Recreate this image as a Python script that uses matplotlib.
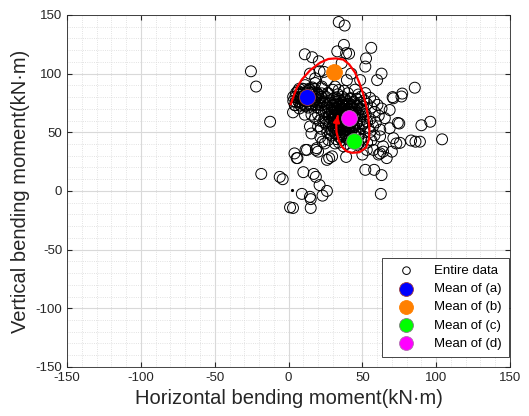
import matplotlib.pyplot as plt
import numpy as np

# sparse / outer points (horizontal, vertical) in kN*m
outer_x = [-25.5, -22, -12.5, -18.5, -6, -4, 1, 3, 15, 9, 14.5, 15, 23, 26, 21, 10, 17, 18.5,
           4, 6, 11.5, 3, 27.5, 29.5, 18.5, 20, 52, 58, 63, 62.5, 90, 96, 83, 86, 104, 39, 50,
           62, 66.5, 70, 75.5, 71, 74, 53, 61, 64, 34, 38, 37.5, 56, 52.5, 52, 63, 60, 48.5,
           85.5, 77, 70.5, 39, 36, 11, 16, 20.5, 21, 18, 22.5, 20, 26.5, 33, 41, 42.5, 39.5,
           31.5, 34, 24, 14.5, 26, 18, 22.5, 71, 76.5, 68.5, 75, 68.5, 73, 64, 57.5, 62, 89,
           11, 15.5, 23.5, 14.5, 15.5, 21.5, 23, 19, 12.5, 5.5, 27, 24.5, 31.5, 28, 20, 26]
outer_y = [102, 89, 59, 14.5, 12, 10, -14, -14.5, -14.5, -2.5, -5, -7, -4, 0, 5, 16, 14.5, 12,
           32, 28, 35, 67, 28, 29.5, 35, 33.5, 18, 18, 13.5, -2.5, 56, 59, 43, 42, 44, 29, 31,
           32, 28, 33.5, 41, 45, 58, 35, 31, 38, 144, 141, 124.5, 122, 113, 106, 100, 94.5, 94.5,
           88, 83, 80, 117.5, 109, 116.5, 114, 110.5, 102, 96, 89, 82, 83.5, 119, 117, 100, 94.5,
           89, 86, 101.5, 100, 94.5, 92, 87.5, 79, 80.5, 69, 57.5, 53.5, 40.5, 33.5, 35, 46.5, 42,
           65, 65, 59, 55, 49, 46, 42, 36.5, 35, 28, 43.5, 40.5, 40.5, 49, 55, 26.5]

# dense cluster around mean (a)
clus_a_x = [5, 6.2, 7.1, 7.4, 8.3, 8.1, 9.2, 9.5, 10.3, 10.1, 11.2, 11.4, 12.3, 12.1, 13.2, 13.4,
            14.1, 14.3, 15.2, 15.4, 16.1, 16.3, 17.2, 17.4, 18.1, 18.3, 19.2, 20.1, 6.3, 4.2, 9.1,
            13.3, 16.2, 20.3, 22.1, 11.2, 7.3, 3.1, 14.2, 19.4, 22, 24, 20, 26, 23, 21, 18, 25, 22,
            4.5, 8.1, 11.6, 15.2, 18.4, 22.1,
            3.2, 6.6, 10.1, 13.4, 17.2, 20.6, 24.1,
            4.6, 8.2, 11.4, 15.1, 18.6, 22.3,
            5.1, 8.4, 12.2, 15.6, 19.1, 22.4,
            7.2, 10.4, 14.1, 17.6]
clus_a_y = [76, 79.2, 82.1, 75.3, 78.2, 84.1, 80.3, 74.2, 77.1, 83.3, 79.4, 72.2, 81.3, 76.4, 85.2,
            78.1, 74.3, 80.2, 82.4, 77.3, 79.1, 73.4, 84.2, 76.1, 80.4, 78.3, 75.2, 82.2, 85.3, 73.1,
            87.2, 71.1, 88.2, 77.4, 80.1, 90.2, 70.3, 80.2, 86.1, 71.3, 70, 67, 65, 72, 76, 60, 62, 58, 53,
            73.1, 72.8, 73.3, 72.9, 73.2, 73.0,
            76.6, 76.3, 76.8, 76.4, 76.7, 76.2, 76.5,
            80.1, 79.8, 80.3, 79.9, 80.2, 80.0,
            83.6, 83.3, 83.7, 83.4, 83.8, 83.2,
            87.1, 86.8, 87.2, 86.9]

# dense cluster around means (c) and (d)
clus_d_x = [30, 37.5, 45,
            27, 33.4, 40.2, 47.3, 52,
            25.3, 31.1, 36.4, 42.2, 49.1, 55.2,
            28.2, 33.1, 38.4, 44.1, 51.3, 58,
            24.1, 30.3, 34.2, 37.3, 41.4, 46.2, 53.1, 60.2,
            27.3, 31.2, 35.4, 38.1, 42.3, 48.2, 56.1, 63,
            25.2, 29.4, 33.2, 36.3, 39.1, 43.4, 50.2, 58.3,
            28.1, 31.4, 34.3, 37.2, 40.4, 45.1, 52.3, 61.1,
            24.4, 30.1, 33.3, 36.2, 39.4, 43.1, 48.3, 55.4, 65.2,
            27.1, 32.2, 35.3, 38.1, 41.2, 46.4, 53.2, 59.1,
            25.4, 30.2, 34.1, 37.4, 40.2, 44.3, 50.1, 57.3,
            28.3, 32.1, 36.2, 39.3, 43.2, 48.1, 54.2, 62.1,
            26.2, 31.3, 35.1, 38.2, 42.4, 47.2, 55.3,
            29.1, 34.2, 37.1, 41.3, 45.2, 51.1, 58.2,
            32.3, 36.1, 40.3, 44.2, 49.3, 56.1,
            34.1, 39.2, 43.3, 47.1, 53.2,
            37.2, 42.1, 48.3,
            32.5, 36.1, 39.4, 43.2, 33.1, 36.4, 40.2, 44.3, 30.4, 34.3, 38.2, 41.4,
            32.2, 35.4, 38.3, 42.1, 31.3, 34.4, 37.3, 41.2, 33.2, 36.1, 39.3, 42.4, 35.2, 38.4, 41.3]
clus_d_y = [86.2, 85.4, 86.3,
            83.1, 82.4, 83.3, 82.2, 83.4,
            80.2, 79.4, 80.3, 79.1, 80.4, 79.3,
            77.3, 76.2, 77.4, 76.1, 77.2, 76.4,
            74.1, 73.3, 74.4, 73.2, 74.3, 73.1, 74.2, 73.4,
            71.2, 70.4, 71.3, 70.1, 71.4, 70.2, 71.1, 70.3,
            68.3, 67.1, 68.4, 67.2, 68.1, 67.3, 68.2, 67.4,
            65.1, 64.3, 65.2, 64.4, 65.3, 64.1, 65.4, 64.2,
            62.2, 61.4, 62.1, 61.3, 62.4, 61.1, 62.3, 61.2, 62.1,
            59.3, 58.1, 59.4, 58.2, 59.1, 58.3, 59.2, 58.4,
            56.4, 55.2, 56.1, 55.3, 56.2, 55.4, 56.3, 55.1,
            53.1, 52.3, 53.4, 52.1, 53.2, 52.4, 53.3, 52.2,
            50.2, 49.4, 50.1, 49.3, 50.4, 49.1, 50.3,
            47.3, 46.1, 47.2, 46.4, 47.1, 46.3, 47.4,
            44.2, 43.4, 44.1, 43.2, 44.3, 43.1,
            41.3, 40.2, 41.1, 40.4, 41.2,
            38.1, 37.3, 38.2,
            73.5, 73.2, 73.6, 73.1, 70.2, 70.4, 70.1, 70.3, 67.1, 67.3, 67.2, 67.4,
            64.2, 64.4, 64.1, 64.3, 61.3, 61.1, 61.4, 61.2, 58.2, 58.4, 58.1, 58.3, 55.1, 55.3, 55.2]

# extra points filling the core of the (c)/(d) cluster
core_x = [30.2, 34.1, 38.3, 42.2, 46.1,
          28.1, 32.3, 36.2, 40.1, 44.3, 48.2,
          29.6, 34.4, 38.6, 42.4, 46.6, 50.4,
          27.6, 31.4, 35.1, 38.2, 41.1, 45.4, 49.6,
          29.1, 33.2, 36.1, 39.6, 43.2, 47.1,
          27.2, 30.6, 34.1, 37.2, 40.6, 44.4, 49.1,
          29.2, 33.1, 36.6, 40.2, 44.1, 48.2,
          28.2, 31.6, 35.2, 38.1, 42.2, 46.1, 50.2,
          30.1, 33.6, 37.1, 40.6, 44.6,
          29.2, 33.2, 37.6, 41.1, 45.2,
          32.1, 36.2, 40.1, 44.2, 48.1,
          35.1, 39.2, 43.1, 47.2]
core_y = [78.6, 78.3, 78.7, 78.4, 78.5,
          75.4, 75.7, 75.3, 75.6, 75.5, 75.2,
          72.6, 72.3, 72.7, 72.4, 72.5, 72.2,
          69.4, 69.7, 69.3, 69.6, 69.5, 69.2, 69.8,
          66.6, 66.3, 66.7, 66.4, 66.5, 66.2,
          63.4, 63.7, 63.3, 63.6, 63.5, 63.2, 63.8,
          60.6, 60.3, 60.7, 60.4, 60.5, 60.2,
          57.4, 57.7, 57.3, 57.6, 57.5, 57.2, 57.8,
          54.6, 54.3, 54.7, 54.4, 54.5,
          51.4, 51.7, 51.3, 51.6, 51.5,
          48.6, 48.3, 48.7, 48.4, 48.5,
          45.4, 45.7, 45.3, 45.6]

# small dot near the origin
dot_x = [2]
dot_y = [1]

# means of the four groups
mean_labels = ['Mean of (a)', 'Mean of (b)', 'Mean of (c)', 'Mean of (d)']
mean_x = [12.5, 30.5, 44.5, 41]
mean_y = [80, 101, 42.5, 62.5]
mean_colors = ['#0000ff', '#ff8000', '#00ff00', '#ff00ff']
mean_edges = ['#a04040', '#ff8000', '#808080', '#b070b0']

# hand drawn red loop
loop_x = [1.5, 3.5, 5.6, 9, 14.7, 21.4, 27, 32, 37, 41, 45, 48, 50.5, 52.5, 54, 54.8, 54.5,
          52.5, 48, 43, 39, 36, 34, 32.5, 32.3, 33]
loop_y = [74, 81, 88, 95, 103, 109.4, 112.5, 113, 112, 108, 101, 92, 83, 73, 63, 53, 44,
          37, 33, 32.5, 34, 38, 43, 50, 56, 62]

all_x = outer_x + clus_a_x + clus_d_x + core_x
all_y = outer_y + clus_a_y + clus_d_y + core_y

plt.rcParams['font.family'] = ['Liberation Sans', 'DejaVu Sans']
plt.rcParams['axes.unicode_minus'] = False

fig = plt.figure(figsize=(5.29, 4.16), dpi=100)
ax = fig.add_axes([0.127, 0.118, 0.837, 0.846])

ax.scatter(all_x, all_y, s=62, facecolors='none', edgecolors='black', linewidths=0.7,
           label='Entire data', zorder=3)
ax.plot(dot_x, dot_y, 'k.', ms=2.5, zorder=3)

ax.plot(loop_x, loop_y, color='red', lw=1.6, zorder=4)
ax.annotate('', xy=(33.7, 66.5), xytext=(33, 61.5),
            arrowprops=dict(arrowstyle='-|>', color='red', lw=1.6, mutation_scale=9),
            zorder=4)

for mx, my, c, e, lab in zip(mean_x, mean_y, mean_colors, mean_edges, mean_labels):
    ax.scatter(mx, my, s=130, color=c, edgecolors=e, linewidths=0.6, label=lab, zorder=5)

ax.set_xlim(-150, 150)
ax.set_ylim(-150, 150)
ax.set_xticks(np.arange(-150, 151, 50))
ax.set_yticks(np.arange(-150, 151, 50))
ax.set_xticks(np.arange(-150, 151, 10), minor=True)
ax.set_yticks(np.arange(-150, 151, 10), minor=True)
ax.grid(which='major', color='#d9d9d9', lw=0.8)
ax.grid(which='minor', color='#d9d9d9', lw=0.6, ls=':')
ax.set_axisbelow(True)
ax.tick_params(which='both', direction='in', top=True, right=True, colors='#262626',
               labelsize=9.5)
ax.tick_params(which='minor', length=0)
for sp in ax.spines.values():
    sp.set_color('#262626')
    sp.set_linewidth(0.6)

ax.set_xlabel('Horizontal bending moment(kN·m)', fontsize=14.5, color='#262626')
ax.set_ylabel('Vertical bending moment(kN·m)', fontsize=14.5, color='#262626')

leg = ax.legend(loc='lower right', bbox_to_anchor=(0.998, 0.028), borderaxespad=0,
                fontsize=9.5, fancybox=False, framealpha=1, edgecolor='#262626',
                handletextpad=0.8, handlelength=2.6, labelspacing=0.45, borderpad=0.55)
leg.get_frame().set_linewidth(0.6)
leg.legend_handles[0].set_sizes([30])
for h in leg.legend_handles[1:]:
    h.set_sizes([100])

fig.savefig('out.png', dpi=100)
